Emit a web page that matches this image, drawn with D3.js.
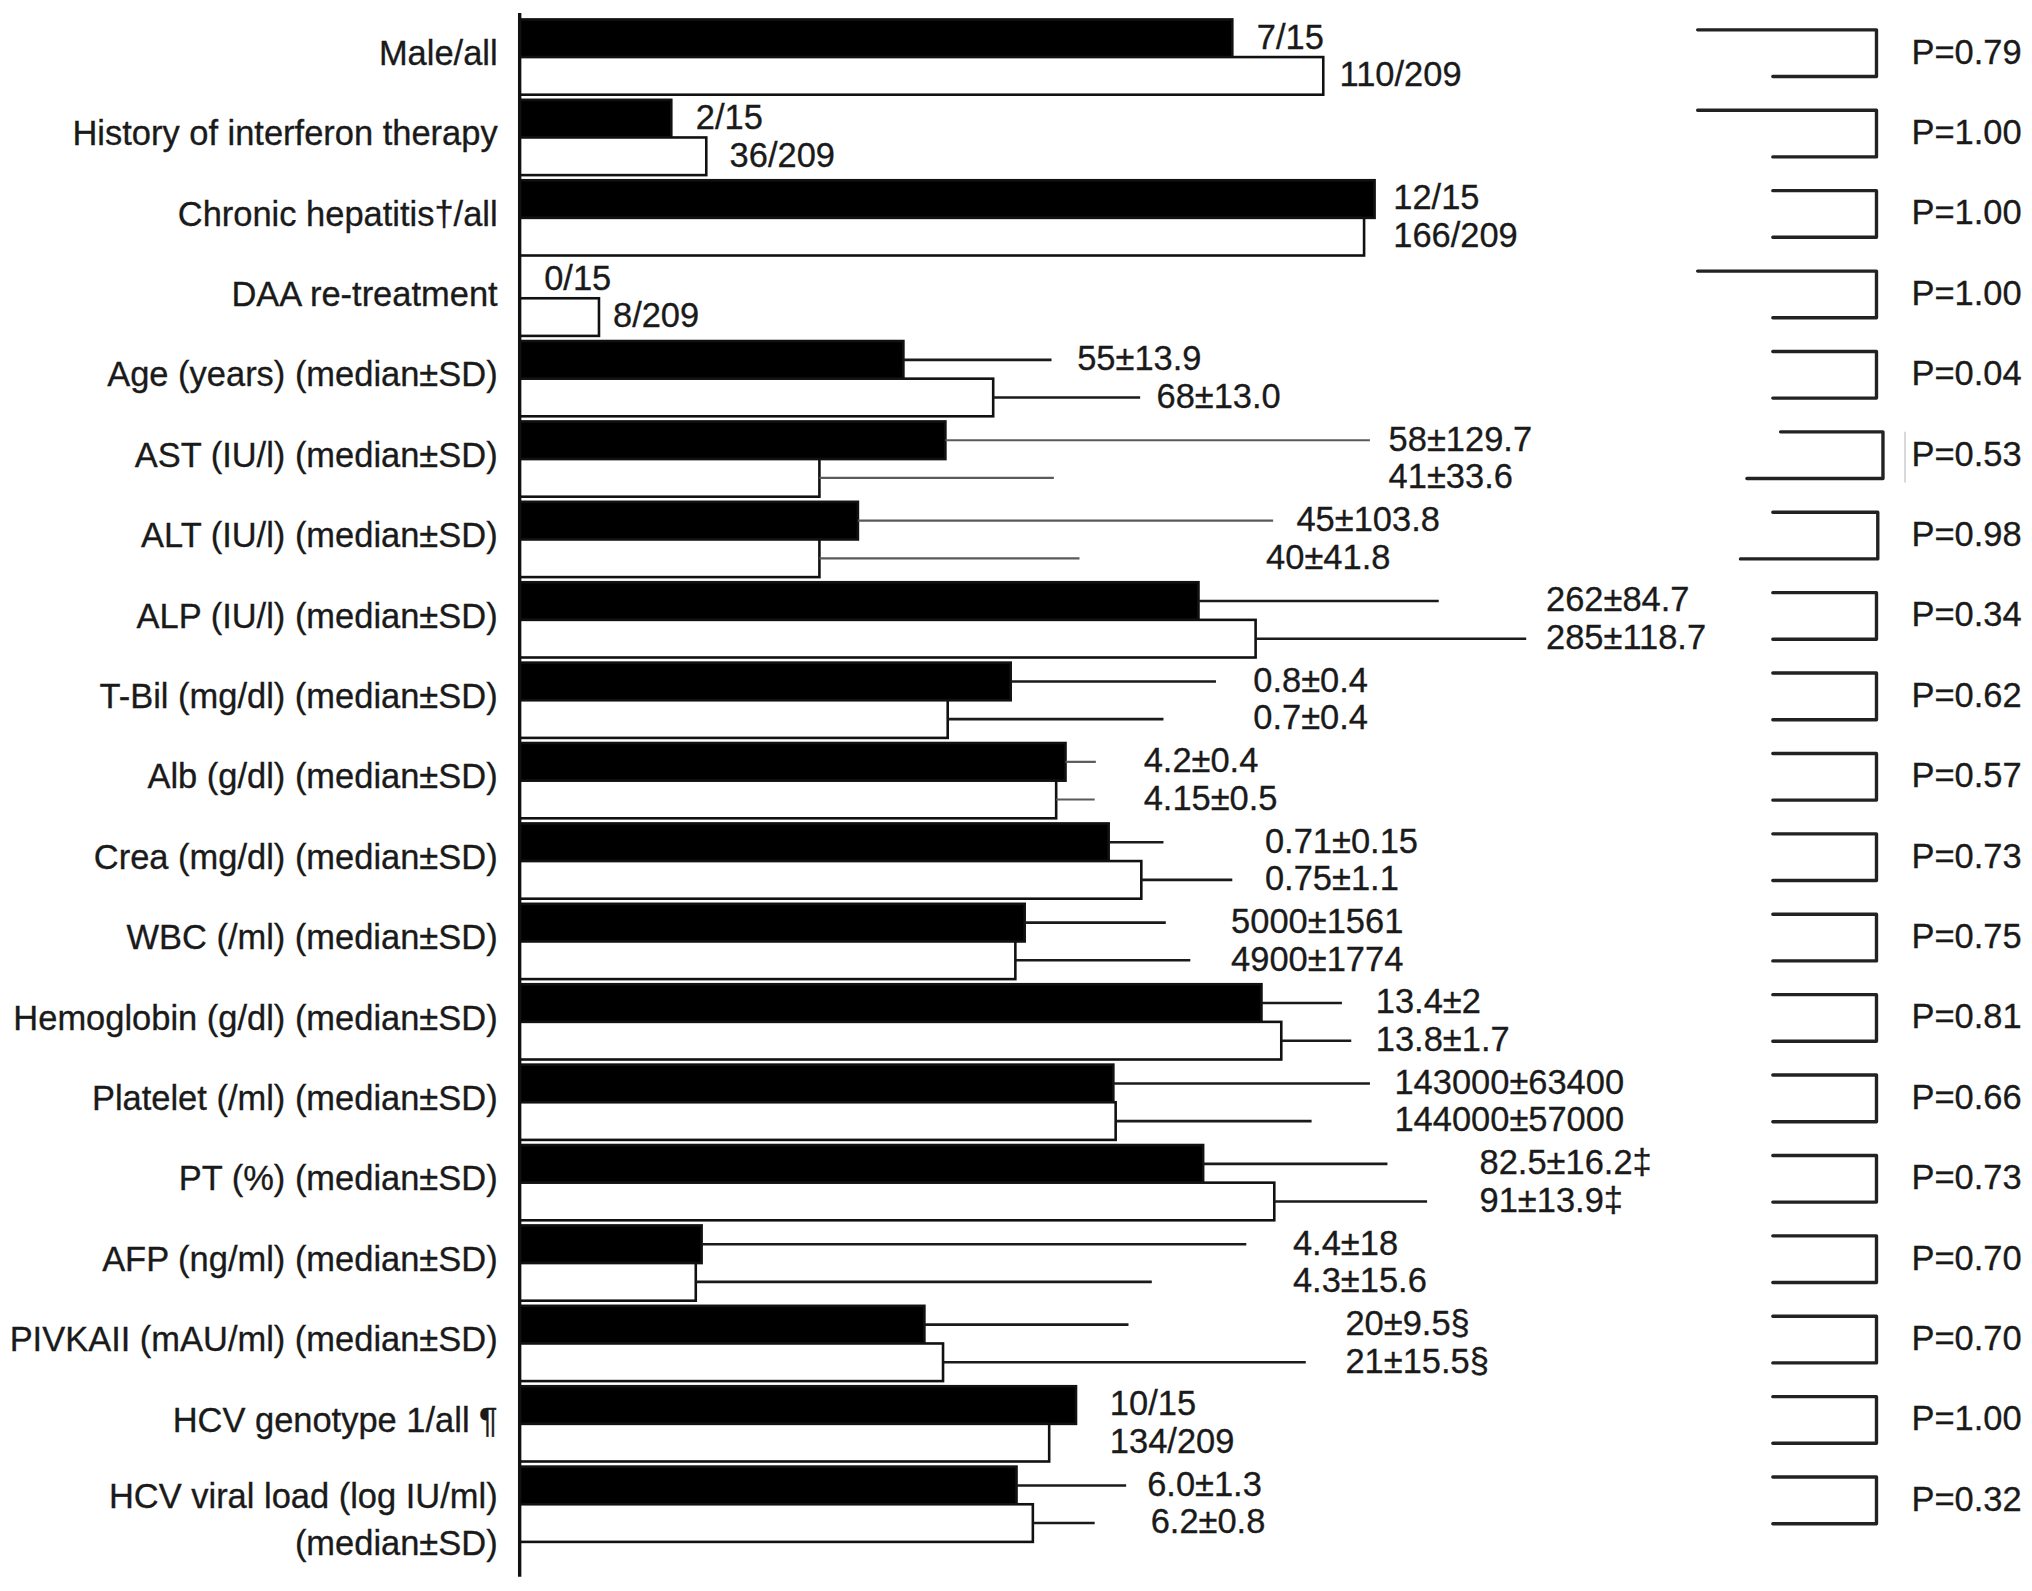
<!DOCTYPE html>
<html>
<head>
<meta charset="utf-8">
<script src="https://cdn.jsdelivr.net/npm/d3@7"></script>
<style>
  html, body { margin: 0; padding: 0; background: #ffffff; }
  svg { display: block; }
  text { font-family: "Liberation Sans", Arial, Helvetica, sans-serif; fill: #1a1a1a; stroke: #1a1a1a; stroke-width: 0.25; }
</style>
</head>
<body>
<div id="chart"></div>
<script>
// ---------------- DATA ----------------
const categories = [
  "Male/all",
  "History of interferon therapy",
  "Chronic hepatitis\u2020/all",
  "DAA re-treatment",
  "Age (years) (median\u00b1SD)",
  "AST (IU/l) (median\u00b1SD)",
  "ALT (IU/l) (median\u00b1SD)",
  "ALP (IU/l) (median\u00b1SD)",
  "T-Bil (mg/dl) (median\u00b1SD)",
  "Alb (g/dl) (median\u00b1SD)",
  "Crea (mg/dl) (median\u00b1SD)",
  "WBC (/ml) (median\u00b1SD)",
  "Hemoglobin (g/dl) (median\u00b1SD)",
  "Platelet (/ml) (median\u00b1SD)",
  "PT (%) (median\u00b1SD)",
  "AFP (ng/ml) (median\u00b1SD)",
  "PIVKAII (mAU/ml) (median\u00b1SD)",
  "HCV genotype 1/all \u00b6",
  "HCV viral load (log IU/ml)\n(median\u00b1SD)"
];

// Drawn bar lengths (relative units, 0-100 of the drawing width)
const blackLen = [61.1, 13.0, 73.3, 0, 32.9, 36.5, 29.0, 58.2, 42.1, 46.8, 50.5, 43.3, 63.6, 50.9, 58.6, 15.6, 34.7, 47.7, 42.6];
const whiteLen = [68.9, 16.0, 72.4, 6.8, 40.6, 25.7, 25.7, 63.1, 36.7, 46.0, 53.3, 42.5, 65.3, 51.1, 64.7, 15.1, 36.3, 45.4, 44.0];
// Ends of the SD whiskers (same relative units); null = no whisker
const blackErr = [null, null, null, null, 45.6, 72.9, 64.6, 78.8, 59.7, 49.4, 55.2, 55.4, 70.5, 72.9, 74.4, 62.3, 52.2, null, 52.0];
const whiteErr = [null, null, null, null, 53.2, 45.8, 48.0, 86.3, 55.2, 49.3, 61.1, 57.5, 71.3, 67.9, 77.8, 54.2, 67.4, null, 49.3];

// Value labels (black group and white group)
const blackLabels = ["7/15", "2/15", "12/15", "0/15", "55\u00b113.9", "58\u00b1129.7", "45\u00b1103.8", "262\u00b184.7",
  "0.8\u00b10.4", "4.2\u00b10.4", "0.71\u00b10.15", "5000\u00b11561", "13.4\u00b12", "143000\u00b163400",
  "82.5\u00b116.2\u2021", "4.4\u00b118", "20\u00b19.5\u00a7", "10/15", "6.0\u00b11.3"];
const whiteLabels = ["110/209", "36/209", "166/209", "8/209", "68\u00b113.0", "41\u00b133.6", "40\u00b141.8", "285\u00b1118.7",
  "0.7\u00b10.4", "4.15\u00b10.5", "0.75\u00b11.1", "4900\u00b11774", "13.8\u00b11.7", "144000\u00b157000",
  "91\u00b113.9\u2021", "4.3\u00b115.6", "21\u00b115.5\u00a7", "134/209", "6.2\u00b10.8"];

const pValues = ["P=0.79", "P=1.00", "P=1.00", "P=1.00", "P=0.04", "P=0.53", "P=0.98", "P=0.34", "P=0.62", "P=0.57",
  "P=0.73", "P=0.75", "P=0.81", "P=0.66", "P=0.73", "P=0.70", "P=0.70", "P=1.00", "P=0.32"];

// ---------------- LAYOUT (not data) ----------------
const blackLabelAt = [63.2, 15.1, 74.9, 2.1, 47.8, 74.5, 66.6, 88.0, 62.9, 53.5, 63.9, 61.0, 73.4, 75.0, 82.3, 66.3, 70.8, 50.6, 53.8];
const whiteLabelAt = [70.3, 18.0, 74.9, 8.0, 54.6, 74.5, 64.0, 88.0, 62.9, 53.5, 63.9, 61.0, 73.4, 75.0, 82.3, 66.3, 70.8, 50.6, 54.1];
const greyWhiskerRows = new Set([5, 6, 9]);
const longTopBracketRows = new Set([0, 1, 3]);
const bracketOverrides = { 5: { top: 1374, bottom: 1348, right: 1453 }, 6: { bottom: 1343, right: 1449 } };

const VW = 1568, VH = 1228;
const FS = 26.6;

const svg = d3.select("#chart").append("svg")
  .attr("width", 2032).attr("height", 1591)
  .attr("viewBox", `0 0 ${VW} ${VH}`)
  .attr("preserveAspectRatio", "none");

svg.append("rect").attr("width", VW).attr("height", VH).attr("fill", "#fff");

const rows = d3.range(categories.length);
const y = d3.scaleBand().domain(rows).range([15, 1190.1]).paddingInner(0.0638).paddingOuter(0);
const ySub = d3.scaleBand().domain(["black", "white"]).range([0, y.bandwidth()]);
const x = d3.scaleLinear().domain([0, 100]).range([401, 1301]);
const mid = i => y(i) + y.bandwidth() / 2;

// Category labels
const catG = svg.append("g");
rows.forEach(i => {
  const lines = categories[i].split("\n");
  const t = catG.append("text")
    .attr("x", 384).attr("text-anchor", "end")
    .attr("font-size", FS)
    .attr("y", mid(i) + (lines.length > 1 ? 3 : 6));
  lines.forEach((ln, k) => {
    t.append("tspan").attr("x", 384).attr("dy", k === 0 ? 0 : 36).text(ln);
  });
});

// Bars
const series = [
  { key: "black", len: blackLen, err: blackErr, lab: blackLabels, at: blackLabelAt, fill: "#000" },
  { key: "white", len: whiteLen, err: whiteErr, lab: whiteLabels, at: whiteLabelAt, fill: "#fff" }
];

const barG = svg.append("g");
series.forEach(s => {
  rows.forEach(i => {
    const y0 = y(i) + ySub(s.key);
    const h = ySub.bandwidth();
    const cy = y0 + h / 2;
    if (s.len[i] > 0) {
      barG.append("rect")
        .attr("x", x(0)).attr("y", y0)
        .attr("width", x(s.len[i]) - x(0)).attr("height", h)
        .attr("fill", s.fill).attr("stroke", "#111").attr("stroke-width", 2);
    }
    if (s.err[i] != null) {
      const grey = greyWhiskerRows.has(i);
      barG.append("line")
        .attr("x1", x(s.len[i])).attr("x2", x(s.err[i]))
        .attr("y1", cy).attr("y2", cy)
        .attr("stroke", grey ? "#5a5a5a" : "#1a1a1a")
        .attr("stroke-width", grey ? 1.7 : 2);
    }
    barG.append("text")
      .attr("x", x(s.at[i])).attr("y", cy + 8)
      .attr("font-size", FS)
      .text(s.lab[i]);
  });
});

// Axis line
const axisG = svg.append("g");
axisG.append("line")
  .attr("x1", 401).attr("x2", 401).attr("y1", 10).attr("y2", 1217)
  .attr("stroke", "#111").attr("stroke-width", 2.6);

// P-value brackets
const brG = svg.append("g");
rows.forEach(i => {
  const o = bracketOverrides[i] || {};
  const right = o.right || 1448;
  const topL = o.top || (longTopBracketRows.has(i) ? 1310 : 1368);
  const botL = o.bottom || 1368;
  const ty = mid(i) - 21, by = mid(i) + 15;
  brG.append("path")
    .attr("d", `M${topL},${ty} H${right} V${by} H${botL}`)
    .attr("fill", "none").attr("stroke", "#222").attr("stroke-width", 2.6)
    .attr("stroke-linejoin", "round").attr("stroke-linecap", "round");
  brG.append("text")
    .attr("x", 1475).attr("y", mid(i) + 5)
    .attr("font-size", FS)
    .text(pValues[i]);
});
// faint scan mark next to the AST bracket
brG.append("line")
  .attr("x1", 1470).attr("x2", 1470).attr("y1", mid(5) - 21).attr("y2", mid(5) + 18)
  .attr("stroke", "#cfcfcf").attr("stroke-width", 1.2);
</script>
</body>
</html>
